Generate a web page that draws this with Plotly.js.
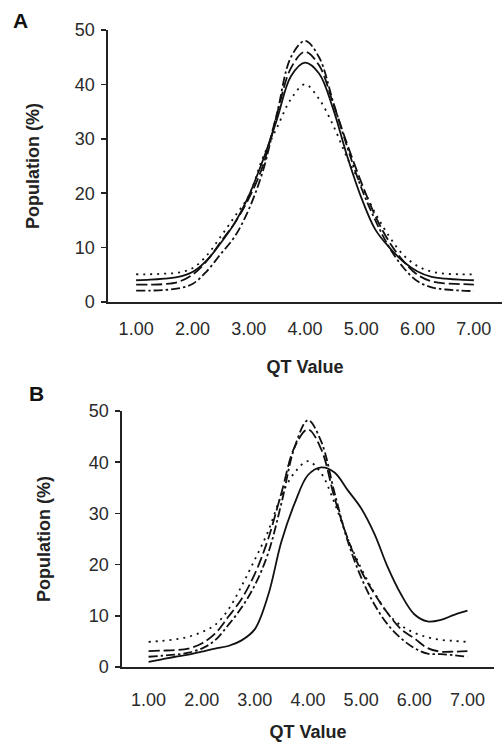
<!DOCTYPE html>
<html>
<head>
<meta charset="utf-8">
<script src="https://cdn.plot.ly/plotly-3.0.1.min.js"></script>
<style>html,body{margin:0;padding:0;background:#fff;}#chart{width:502px;height:742px;}</style>
</head>
<body>
<div id="chart"></div>
<script>
// QT value grid (same for every series)
const qtValues = [1.0,1.25,1.5,1.75,2.0,2.25,2.5,2.75,3.0,3.25,3.5,3.75,4.0,4.25,4.5,4.75,5.0,5.25,5.5,5.75,6.0,6.25,6.5,6.75,7.0];
const tickLabels = ["1.00","2.00","3.00","4.00","5.00","6.00","7.00"];
const tickLabelValues = [1,2,3,4,5,6,7];
const tickMarkValues = [0.5,1.5,2.5,3.5,4.5,5.5,6.5,7.5];

// Panel A
const aSolid   = [4.0,4.1,4.3,4.6,5.5,7.6,10.8,14.5,19.5,26,33.5,41.5,44,42,35.5,26.8,19.2,13.3,10,7.4,5.6,4.6,4.3,4.1,4.0];
const aDotted  = [5.1,5.1,5.2,5.4,6.2,8.5,12,15.7,19.5,26.5,32,37.3,40,37.3,32.5,26.5,21.5,16.3,12,8.6,6.6,5.6,5.2,5.1,5.1];
const aDashed  = [3.2,3.2,3.3,3.7,5.0,7.5,11,14.5,19,25,34.5,43,46,43.5,36.5,29,22,15.8,11,7.5,5.0,3.8,3.4,3.3,3.2];
const aDashDot = [2.1,2.1,2.2,2.5,3.3,5.6,8.8,12,17,24,34.5,45,48,45,36.8,28.5,21,15,10,6.3,3.8,2.7,2.3,2.1,2.0];

// Panel B
const bSolid   = [1.0,1.5,2.0,2.4,3.0,3.6,4.1,5.2,7.4,14,24.5,32,37.5,39,38,34.5,31,26,19.5,14.2,10.3,8.9,9.2,10.2,11];
const bDotted  = [4.9,5.1,5.4,5.9,6.8,8.2,11.2,15.8,21,26.5,33.5,38,40.2,37.8,32,25,19.3,14.5,10.5,8.1,6.7,5.8,5.3,5.1,4.9];
const bDashed  = [3.1,3.2,3.3,3.6,4.6,6.5,9.8,13.3,18.2,25,34,43,46.4,42.5,33,25,18.8,14.3,10.5,7.4,5.6,3.7,3.0,3.0,3.1];
const bDashDot = [2.0,2.2,2.4,2.8,3.6,5.2,8.2,11.6,16,22.2,32,43,48.2,44,34,24.5,17.5,12.2,8.3,5.6,3.7,2.6,2.5,2.3,2.0];

const W = 502, H = 742;
const FONT = '"Liberation Sans", Arial, sans-serif';
const DASH = {solid:'solid', dotted:'2px,5px', dashed:'11px,4px', dashdot:'9px,3px,2.5px,3px'};

function tr(y, dash, xa, ya){
  return {x: qtValues, y: y, type:'scatter', mode:'lines', xaxis:xa, yaxis:ya,
    line:{color:'#111', width:1.8, dash:dash, shape:'spline', smoothing:1}, hoverinfo:'skip', showlegend:false};
}

const data = [
  tr(aDotted, DASH.dotted, 'x', 'y'),
  tr(aDashed, DASH.dashed, 'x', 'y'),
  tr(aDashDot, DASH.dashdot, 'x', 'y'),
  tr(aSolid, DASH.solid, 'x', 'y'),
  tr(bDotted, DASH.dotted, 'x3', 'y3'),
  tr(bDashed, DASH.dashed, 'x3', 'y3'),
  tr(bDashDot, DASH.dashdot, 'x3', 'y3'),
  tr(bSolid, DASH.solid, 'x3', 'y3')
];

const tickFont = {family:FONT, size:18, color:'#2a2a2a'};
const titleFont = {family:FONT, size:18, color:'#222', weight:'bold'};

function xLab(domain, anchor, standoff, tStandoff){
  return {domain:domain, anchor:anchor, range:[0.5,7.5], tickvals:tickLabelValues, ticktext:tickLabels,
    ticks:'', showgrid:false, zeroline:false, showline:true, linecolor:'#222', linewidth:1.6,
    tickfont:tickFont, ticklabelstandoff:standoff, fixedrange:true,
    title:{text:'QT Value', font:titleFont, standoff:tStandoff}};
}
function xTick(domain, anchor, overlay){
  return {domain:domain, anchor:anchor, overlaying:overlay, range:[0.5,7.5], tickvals:tickMarkValues,
    ticks:'outside', ticklen:6, tickwidth:1.5, tickcolor:'#222', showticklabels:false,
    showgrid:false, zeroline:false, showline:false, fixedrange:true};
}
function yAx(domain, anchor, tStandoff){
  return {domain:domain, anchor:anchor, range:[0,50], tickvals:[0,10,20,30,40,50],
    ticks:'outside', ticklen:5, tickwidth:1.5, tickcolor:'#222', showgrid:false, zeroline:false,
    showline:true, linecolor:'#222', linewidth:1.6, tickfont:tickFont, ticklabelstandoff:3, fixedrange:true,
    title:{text:'Population (%)', font:titleFont, standoff:tStandoff}};
}

const layout = {
  width:W, height:H, margin:{l:0,r:0,t:0,b:0}, paper_bgcolor:'#fff', plot_bgcolor:'#fff',
  font:{family:FONT, color:'#222'},
  xaxis: xLab([108/W, 1], 'y', 10, 22),
  xaxis2: xTick([108/W, 1], 'y', 'x'),
  yaxis: yAx([440/H, 712/H], 'x', 30),
  xaxis3: xLab([122/W, 494/W], 'y3', 16, 19),
  xaxis4: xTick([122/W, 494/W], 'y3', 'x3'),
  yaxis3: yAx([75/H, 331/H], 'x3', 33),
  annotations:[
    {text:'A', xref:'paper', yref:'paper', x:20/W, y:1-21/H, showarrow:false, xanchor:'center', yanchor:'middle',
     font:{family:FONT, size:21, color:'#111', weight:'bold'}},
    {text:'B', xref:'paper', yref:'paper', x:36/W, y:1-393/H, showarrow:false, xanchor:'center', yanchor:'middle',
     font:{family:FONT, size:21, color:'#111', weight:'bold'}}
  ]
};

Plotly.newPlot('chart', data, layout, {displayModeBar:false, staticPlot:true});
</script>
</body>
</html>
